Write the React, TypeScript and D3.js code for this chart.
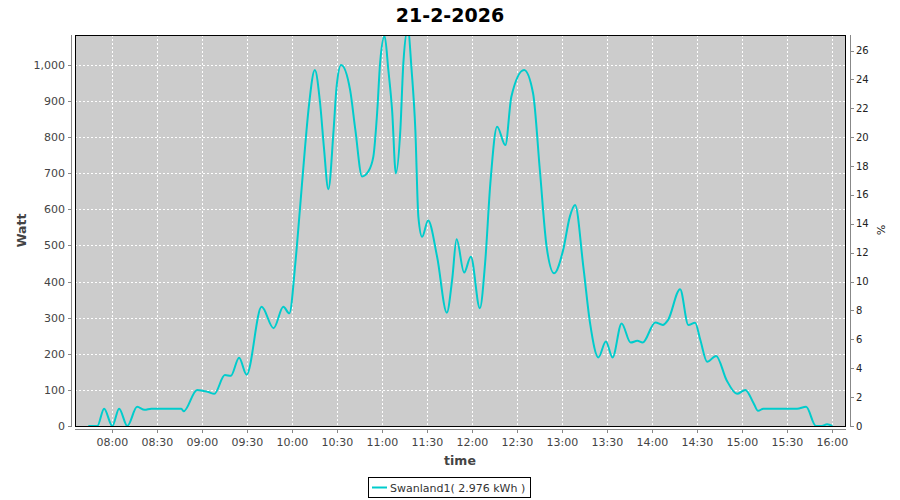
import React from "react";
import * as d3 from "d3";

const TITLE = "21-2-2026";
const SERIES_NAME = "Swanland1( 2.976 kWh )";
const X_LABEL = "time";
const Y_LABEL = "Watt";
const Y2_LABEL = "%";

const DAY = "2026-02-21";
const X_START = "07:35:06";
const X_END = "16:09:06";
const Y_MAX = 1083;
const PCT_FACTOR = 40; // watt / percent

const times: string[] = [
  "07:44:00", "07:50:00", "07:54:30", "08:00:00", "08:04:30", "08:10:00", "08:16:30", "08:21:30",
  "08:26:00", "08:46:00", "08:47:30", "08:56:30", "09:04:00", "09:08:00", "09:15:00", "09:19:00",
  "09:24:30", "09:29:30", "09:39:30", "09:47:30", "09:54:00", "09:58:00", "10:02:00", "10:05:00",
  "10:08:30", "10:11:00", "10:15:00", "10:18:30", "10:21:00", "10:24:00", "10:27:30", "10:29:30",
  "10:32:30", "10:38:30", "10:42:00", "10:46:30", "10:50:30", "10:54:00", "10:56:30", "10:58:30",
  "11:01:30", "11:04:00", "11:06:30", "11:09:00", "11:12:00", "11:14:00", "11:17:00", "11:19:30",
  "11:22:00", "11:24:00", "11:26:30", "11:30:30", "11:36:30", "11:43:00", "11:46:30", "11:49:30",
  "11:54:30", "11:59:00", "12:05:00", "12:08:30", "12:12:00", "12:16:30", "12:22:00", "12:26:00",
  "12:34:30", "12:40:30", "12:45:00", "12:49:30", "12:54:30", "13:00:30", "13:05:00", "13:08:30",
  "13:14:00", "13:18:30", "13:24:00", "13:29:00", "13:33:30", "13:39:30", "13:45:30", "13:50:00",
  "13:53:30", "14:02:00", "14:07:00", "14:10:30", "14:18:30", "14:24:00", "14:28:30", "14:32:00",
  "14:36:30", "14:42:30", "14:49:30", "14:56:30", "15:02:00", "15:07:30", "15:10:30", "15:14:00",
  "15:36:30", "15:42:30", "15:49:00", "15:53:00", "15:56:30", "16:00:00",
];

const watts: number[] = [
  0, 0, 48, 0, 48, 0, 53, 45,
  48, 48, 41, 100, 94, 89, 141, 139,
  189, 142, 330, 271, 330, 312, 451, 598,
  774, 885, 986, 894, 774, 656, 820, 940,
  1000, 931, 820, 691, 704, 746, 866, 1005,
  1080, 986, 875, 700, 820, 1005, 1100, 986,
  820, 580, 524, 569, 469, 314, 404, 517,
  425, 469, 326, 451, 672, 829, 778, 912,
  986, 921, 709, 497, 423, 487, 580, 612,
  441, 284, 190, 234, 190, 284, 231, 236,
  231, 287, 280, 294, 379, 280, 286, 238,
  178, 194, 127, 89, 100, 63, 42, 48,
  48, 53, 0, 0, 5, 0,
];

const yTicks: number[] = [0, 100, 200, 300, 400, 500, 600, 700, 800, 900, 1000];
const y2Ticks: number[] = [0, 2, 4, 6, 8, 10, 12, 14, 16, 18, 20, 22, 24, 26];

const FONT = "'DejaVu Sans', sans-serif";
const LINE_COLOR = "#00cccc";

const toDate = (t: string) => new Date(`${DAY}T${t}`);

export default function App() {
  const W = 900;
  const H = 500;
  const left = 75;
  const right = 846;
  const top = 35;
  const bottom = 426;

  const x = d3.scaleTime().domain([toDate(X_START), toDate(X_END)]).range([left, right]);
  const y = d3.scaleLinear().domain([0, Y_MAX]).range([bottom, top]);
  const y2 = d3.scaleLinear().domain([0, Y_MAX / PCT_FACTOR]).range([bottom, top]);

  const data = times.map((t, i) => ({ d: toDate(t), v: watts[i] }));
  const line = d3
    .line<{ d: Date; v: number }>()
    .x((p) => x(p.d))
    .y((p) => y(p.v))
    .curve(d3.curveMonotoneX);

  const xTicks = x.ticks(d3.timeMinute.every(30) as any);
  const fmt = d3.timeFormat("%H:%M");
  const yFmt = d3.format(",");

  return (
    <svg width={W} height={H} style={{ display: "block", position: "absolute", left: 0, top: 0 }}>
      <rect x={0} y={0} width={W} height={H} fill="#ffffff" />
      <defs>
        <clipPath id="plotclip">
          <rect x={left} y={top} width={right - left} height={bottom - top + 1} />
        </clipPath>
      </defs>
      <text x={450} y={22} textAnchor="middle" fontFamily={FONT} fontWeight="bold" fontSize={19} fill="#000">
        {TITLE}
      </text>

      {/* plot background */}
      <rect x={left} y={top} width={right - left} height={bottom - top + 0.5} fill="#cccccc" />

      {/* grid */}
      {xTicks.map((t, i) => (
        <line key={"gx" + i} x1={Math.round(x(t)) + 0.5} x2={Math.round(x(t)) + 0.5} y1={top} y2={bottom}
          stroke="#ffffff" strokeWidth={1} strokeDasharray="2,2" />
      ))}
      {yTicks.filter((v) => v > 0).map((v, i) => (
        <line key={"gy" + i} x1={left} x2={right} y1={Math.round(y(v)) + 0.5} y2={Math.round(y(v)) + 0.5}
          stroke="#ffffff" strokeWidth={1} strokeDasharray="2,2" />
      ))}

      {/* series */}
      <path d={line(data) || ""} fill="none" stroke={LINE_COLOR} strokeWidth={2} clipPath="url(#plotclip)" />

      {/* plot border */}
      <rect x={left + 0.5} y={top + 0.5} width={right - left - 1} height={bottom - top} fill="none" stroke="#000" strokeWidth={1} />

      {/* left axis */}
      <line x1={71.5} x2={71.5} y1={top} y2={bottom + 1} stroke="#888" strokeWidth={1} />
      {yTicks.map((v, i) => (
        <g key={"yt" + i}>
          <line x1={68} x2={71} y1={Math.round(y(v)) + 0.5} y2={Math.round(y(v)) + 0.5} stroke="#888" />
          <text x={65} y={y(v) + 4} textAnchor="end" fontFamily={FONT} fontSize={11} fill="#444">
            {yFmt(v)}
          </text>
        </g>
      ))}
      <text transform={`translate(26,${(top + bottom) / 2}) rotate(-90)`} textAnchor="middle"
        fontFamily={FONT} fontSize={12.5} fontWeight="bold" fill="#444">
        {Y_LABEL}
      </text>

      {/* bottom axis */}
      <line x1={left} x2={right} y1={429.5} y2={429.5} stroke="#888" strokeWidth={1} />
      {xTicks.map((t, i) => (
        <g key={"xt" + i}>
          <line x1={Math.round(x(t)) + 0.5} x2={Math.round(x(t)) + 0.5} y1={430} y2={433} stroke="#888" />
          <text x={x(t)} y={446} textAnchor="middle" fontFamily={FONT} fontSize={11} fill="#444">
            {fmt(t)}
          </text>
        </g>
      ))}
      <text x={460} y={465} textAnchor="middle" fontFamily={FONT} fontSize={12.5} fontWeight="bold" fill="#444">
        {X_LABEL}
      </text>

      {/* right axis */}
      <line x1={850.5} x2={850.5} y1={top} y2={bottom + 1} stroke="#888" strokeWidth={1} />
      {y2Ticks.map((v, i) => (
        <g key={"y2t" + i}>
          <line x1={851} x2={854} y1={Math.round(y2(v)) + 0.5} y2={Math.round(y2(v)) + 0.5} stroke="#888" />
          <text x={856} y={y2(v) + 3.5} textAnchor="start" fontFamily={FONT} fontSize={10} fill="#222">
            {v}
          </text>
        </g>
      ))}
      <text transform={`translate(877,230) rotate(90)`} textAnchor="middle"
        fontFamily={FONT} fontSize={11} fill="#222">
        {Y2_LABEL}
      </text>

      {/* legend */}
      <rect x={368.5} y={477.5} width={162} height={20} fill="#fff" stroke="#000" strokeWidth={1} />
      <line x1={372} x2={387} y1={487.5} y2={487.5} stroke={LINE_COLOR} strokeWidth={2} />
      <text x={390} y={492} fontFamily={FONT} fontSize={11} fill="#333">
        {SERIES_NAME}
      </text>
    </svg>
  );
}
